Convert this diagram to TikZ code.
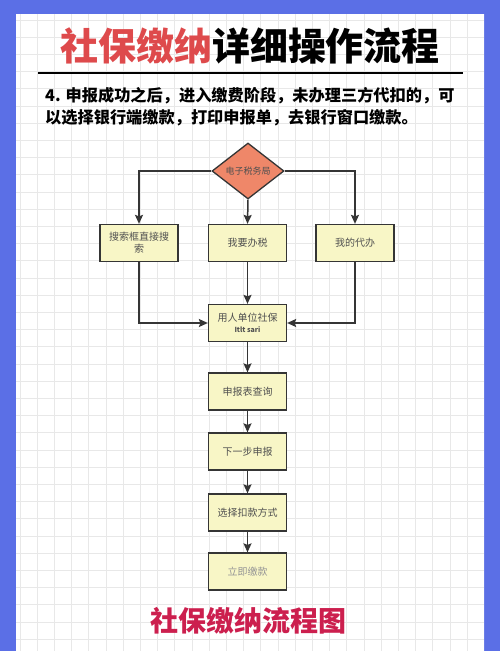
\documentclass[tikz,border=0pt]{standalone}
\usepackage{fontspec}
\setmainfont{Noto Sans CJK SC}
\usetikzlibrary{arrows.meta,shapes.geometric}
\definecolor{frameblue}{HTML}{5B6FE6}
\definecolor{gridc}{HTML}{E8E8E8}
\definecolor{titlered}{HTML}{DE4A4C}
\definecolor{bottomred}{HTML}{CC1F4E}
\definecolor{boxfill}{HTML}{F8F6C6}
\definecolor{boxdraw}{HTML}{353535}
\definecolor{dia}{HTML}{EF8769}
\definecolor{boxtext}{HTML}{505050}
\tikzset{
  stepbox/.style={rectangle, draw=boxdraw, fill=boxfill, line width=1.3pt,
    minimum width=78pt, minimum height=37pt, inner sep=2pt,
    font=\fontsize{10}{12}\selectfont, text=boxtext, align=center},
  decision/.style={diamond, draw=boxdraw, fill=dia, line width=1.3pt,
    minimum width=72pt, minimum height=56pt, inner sep=0pt,
    font=\fontsize{9}{11}\selectfont, text=boxtext},
  arr/.style={draw=boxdraw, line width=1.5pt, -{Stealth[length=9pt,width=8pt,inset=1.5pt]}}
}
\begin{document}
\begin{tikzpicture}[x=1pt,y=-1pt]
\useasboundingbox (0,0) rectangle (500,651);
\fill[frameblue] (0,0) rectangle (500,651);
\fill[white] (16,14) rectangle (484,651);
\begin{scope}
\clip (16,14) rectangle (484,651);
\foreach \i in {0,...,28} {\draw[gridc, line width=0.7pt] (20+17.2*\i,14) -- (20+17.2*\i,651);}
\foreach \j in {0,...,37} {\draw[gridc, line width=0.7pt] (16,20+17.2*\j) -- (484,20+17.2*\j);}
\end{scope}
% title
\node[font=\fontsize{38}{44}\selectfont\bfseries, inner sep=0pt] (title) at (250,46) {\textcolor{titlered}{社保缴纳}详细操作流程};
\coordinate (ruleL) at (38,73);
\coordinate (ruleR) at (463,73);
\draw[line width=2pt] (ruleL) -- (ruleR);
\node[anchor=west, font=\fontsize{16.2}{20}\selectfont\bfseries, inner sep=0pt] (line1) at (45,96) {4. 申报成功之后，进入缴费阶段，未办理三方代扣的，可};
\node[anchor=west, font=\fontsize{16.2}{20}\selectfont\bfseries, inner sep=0pt] (line2) at (45,118) {以选择银行端缴款，打印申报单，去银行窗口缴款。};
% flowchart
\node[decision] (d) at (248,171) {电子税务局};
\node[stepbox, text width=70pt] (l1) at (139,243) {搜索框直接搜\\索};
\node[stepbox] (m1) at (247.5,243) {我要办税};
\node[stepbox] (r1) at (355,243) {我的代办};
\node[stepbox] (b4) at (247.5,323) {用人单位社保\\[-1pt]{\fontsize{7}{8}\selectfont\itshape\bfseries Itlt sari}};
\node[stepbox] (b5) at (247.5,391.5) {申报表查询};
\node[stepbox] (b6) at (247.5,451.5) {下一步申报};
\node[stepbox] (b7) at (247.5,512.5) {选择扣款方式};
\node[stepbox, text=boxtext!60] (b8) at (247.5,571.5) {立即缴款};
\draw[arr] (d.west) -| (l1.north);
\draw[arr] (d.east) -| (r1.north);
\draw[arr] (d.south) -- (m1.north);
\draw[arr] (l1.south) |- (b4.west);
\draw[arr] (r1.south) |- (b4.east);
\draw[arr] (m1.south) -- (b4.north);
\draw[arr] (b4) -- (b5);
\draw[arr] (b5) -- (b6);
\draw[arr] (b6) -- (b7);
\draw[arr] (b7) -- (b8);
\node[font=\fontsize{28}{32}\selectfont\bfseries, text=bottomred, inner sep=0pt] (bottom) at (248,621) {社保缴纳流程图};
\end{tikzpicture}
\end{document}
